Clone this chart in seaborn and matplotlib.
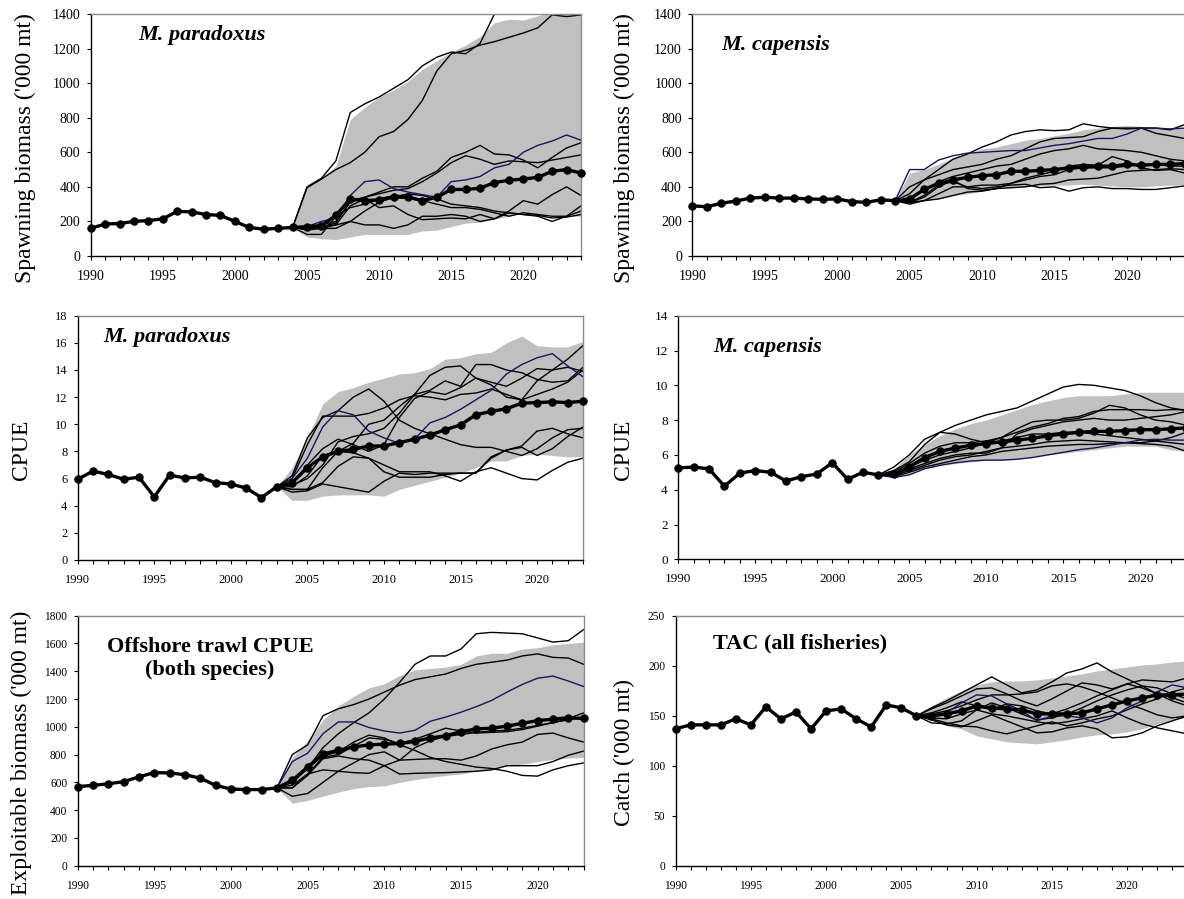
import matplotlib
matplotlib.use("Agg")
import matplotlib.pyplot as plt
import seaborn as sns
import numpy as np
from matplotlib.ticker import MultipleLocator

# ---------------- DATA ----------------
# Panel 1: Spawning biomass, M. paradoxus (1990-2024)
SSB_PAR_MEDIAN = [160, 185, 188, 200, 205, 215, 258, 255, 240, 235, 200, 165, 155, 160, 165,
                  170, 175, 235, 330, 320, 325, 340, 340, 320, 340, 385, 385, 392, 425, 438, 445, 455, 490, 500, 480]
SSB_PAR_HI = [165, 400, 450, 520, 790, 860, 920, 960, 1010, 1080, 1130, 1180, 1220, 1270, 1350, 1370, 1365, 1390, 1410, 1420, 1430]
SSB_PAR_LO = [165, 110, 100, 95, 110, 125, 125, 125, 125, 145, 150, 170, 190, 195, 215, 230, 250, 245, 235, 230, 230]
SSB_PAR_NAVY = [165, 170, 200, 220, 350, 430, 440, 390, 370, 355, 340, 430, 440, 460, 510, 530, 600, 640, 665, 700, 670]
SSB_PAR_T1 = [165, 400, 450, 550, 830, 880, 920, 970, 1020, 1100, 1150, 1180, 1170, 1230, 1400, 1440, 1430, 1450, 1440, 1430, 1440]
SSB_PAR_T2 = [165, 395, 445, 500, 540, 600, 690, 720, 790, 900, 1070, 1170, 1190, 1220, 1240, 1265, 1290, 1320, 1395, 1385, 1395]
SSB_PAR_T3 = [165, 170, 180, 200, 310, 340, 370, 400, 400, 450, 490, 570, 600, 640, 590, 585, 555, 510, 570, 625, 655]
SSB_PAR_T4 = [165, 160, 170, 190, 320, 340, 360, 380, 390, 430, 480, 540, 580, 560, 530, 550, 545, 540, 555, 570, 585]
SSB_PAR_T5 = [165, 150, 160, 180, 290, 330, 280, 290, 240, 210, 215, 220, 215, 240, 215, 260, 320, 300, 355, 400, 350]
SSB_PAR_T6 = [165, 125, 125, 230, 280, 300, 330, 350, 350, 320, 300, 280, 280, 270, 250, 230, 250, 240, 230, 230, 260]
SSB_PAR_T7 = [165, 160, 160, 160, 200, 180, 180, 160, 180, 230, 230, 240, 230, 200, 215, 250, 240, 230, 200, 230, 290]
SSB_PAR_T8 = [165, 165, 170, 180, 200, 260, 310, 340, 360, 350, 330, 300, 290, 280, 260, 250, 240, 235, 220, 225, 240]

# Panel 2: Spawning biomass, M. capensis (1990-2024)
SSB_CAP_MEDIAN = [290, 285, 305, 318, 335, 340, 335, 335, 330, 328, 330, 315, 310, 325, 320,
                  330, 385, 420, 440, 455, 465, 470, 490, 490, 495, 500, 510, 515, 520, 520, 530, 525, 530, 530, 535]
SSB_CAP_HI = [320, 480, 500, 530, 570, 590, 620, 630, 650, 670, 680, 695, 710, 730, 740, 750, 755, 750, 745, 740, 740]
SSB_CAP_LO = [320, 310, 320, 330, 350, 360, 375, 390, 395, 400, 405, 410, 410, 415, 410, 405, 400, 400, 405, 410, 410]
SSB_CAP_NAVY = [320, 500, 500, 555, 580, 595, 600, 605, 610, 610, 625, 640, 650, 665, 680, 680, 705, 740, 740, 735, 740]
SSB_CAP_T1 = [320, 400, 440, 500, 560, 590, 630, 660, 700, 720, 730, 725, 730, 765, 750, 740, 740, 740, 740, 730, 760]
SSB_CAP_T2 = [320, 360, 440, 470, 500, 515, 530, 560, 580, 620, 660, 680, 685, 690, 720, 740, 735, 740, 710, 695, 680]
SSB_CAP_T3 = [320, 330, 380, 430, 460, 480, 500, 520, 530, 560, 590, 610, 620, 640, 620, 615, 610, 600, 580, 560, 550]
SSB_CAP_T4 = [320, 310, 350, 410, 430, 400, 410, 410, 420, 450, 470, 490, 520, 530, 525, 575, 550, 510, 495, 500, 480]
SSB_CAP_T5 = [320, 300, 320, 330, 350, 370, 375, 390, 420, 440, 460, 470, 500, 510, 510, 510, 520, 530, 530, 520, 520]
SSB_CAP_T6 = [320, 310, 340, 400, 440, 390, 380, 390, 395, 400, 415, 420, 440, 445, 450, 470, 490, 495, 500, 505, 500]
SSB_CAP_T7 = [320, 310, 320, 360, 400, 400, 390, 400, 410, 415, 395, 400, 375, 395, 400, 390, 390, 385, 385, 395, 405]

# Panel 3: CPUE, M. paradoxus (1990-2023)
CPUE_PAR_MEDIAN = [5.95, 6.55, 6.3, 5.95, 6.1, 4.65, 6.25, 6.05, 6.1, 5.7, 5.6, 5.3, 4.6, 5.4,
                   5.7, 6.8, 7.6, 8.0, 8.15, 8.4, 8.4, 8.65, 8.9, 9.2, 9.6, 9.95, 10.7, 10.95, 11.15, 11.55, 11.6, 11.65, 11.6, 11.7]
CPUE_PAR_HI = [5.4, 6.8, 9.0, 11.5, 12.4, 12.7, 13.1, 13.4, 13.7, 13.8, 14.1, 14.8, 14.9, 15.2, 15.3, 16.0, 16.5, 15.8, 15.7, 15.7, 16.1]
CPUE_PAR_LO = [5.4, 4.4, 4.4, 4.7, 4.8, 4.8, 4.8, 4.7, 5.2, 5.5, 5.8, 6.1, 6.4, 6.8, 7.3, 7.3, 7.7, 7.8, 7.7, 7.6, 7.6]
CPUE_PAR_NAVY = [5.4, 6.0, 7.5, 9.8, 11.0, 10.7, 9.5, 9.0, 8.6, 8.9, 10.1, 10.5, 11.1, 11.8, 12.5, 13.7, 14.4, 14.9, 15.2, 14.3, 13.5]
CPUE_PAR_T1 = [5.4, 6.2, 9.0, 10.5, 11.0, 12.0, 12.6, 11.7, 10.3, 9.7, 9.3, 8.9, 8.5, 8.3, 8.3, 8.0, 7.7, 8.2, 9.0, 9.6, 9.7]
CPUE_PAR_T2 = [5.4, 6.0, 8.5, 10.6, 10.6, 10.6, 10.8, 11.2, 11.8, 12.1, 12.0, 11.8, 12.2, 12.3, 12.6, 12.2, 11.8, 12.2, 12.6, 13.1, 14.0]
CPUE_PAR_T3 = [5.4, 5.5, 6.0, 7.0, 8.7, 9.1, 9.3, 9.7, 10.8, 12.2, 13.6, 14.2, 14.3, 13.4, 12.9, 12.0, 11.8, 13.2, 14.0, 14.8, 15.8]
CPUE_PAR_T4 = [5.4, 5.2, 5.2, 6.8, 8.0, 8.6, 10.0, 10.3, 11.3, 12.2, 12.5, 13.2, 12.8, 14.4, 14.4, 14.0, 13.8, 13.3, 13.1, 13.2, 14.2]
CPUE_PAR_T5 = [5.4, 5.6, 7.0, 8.2, 8.9, 8.5, 8.0, 8.5, 10.5, 11.9, 12.4, 12.2, 12.7, 13.4, 13.1, 12.8, 13.4, 14.1, 14.0, 14.2, 13.9]
CPUE_PAR_T6 = [5.4, 5.4, 6.2, 7.7, 8.0, 7.9, 7.5, 6.5, 6.1, 6.1, 6.1, 6.3, 6.4, 6.4, 7.5, 8.1, 8.4, 9.5, 9.7, 9.3, 9.0]
CPUE_PAR_T7 = [5.4, 5.2, 5.2, 5.7, 6.9, 7.6, 7.5, 7.0, 6.5, 6.5, 6.5, 6.2, 5.8, 6.5, 6.8, 6.4, 6.0, 5.9, 6.6, 7.2, 7.5]
CPUE_PAR_T8 = [5.4, 5.0, 5.1, 5.6, 5.4, 5.2, 5.0, 5.8, 6.4, 6.3, 6.4, 6.4, 6.4, 6.4, 7.6, 8.1, 8.3, 7.7, 8.2, 9.1, 9.8]

# Panel 4: CPUE, M. capensis (1990-2023)
CPUE_CAP_MEDIAN = [5.25, 5.3, 5.2, 4.2, 4.95, 5.1, 5.0, 4.5, 4.75, 4.9, 5.55, 4.6, 5.0, 4.85,
                   4.9, 5.3, 5.85, 6.2, 6.4, 6.55, 6.65, 6.75, 6.85, 6.95, 7.1, 7.2, 7.3, 7.35, 7.35, 7.4, 7.45, 7.45, 7.5, 7.55]
CPUE_CAP_HI = [4.85, 5.2, 6.0, 6.6, 7.1, 7.5, 7.8, 8.0, 8.3, 8.6, 8.9, 9.1, 9.3, 9.4, 9.4, 9.4, 9.5, 9.6, 9.6, 9.6, 9.6]
CPUE_CAP_LO = [4.85, 4.7, 4.9, 5.2, 5.4, 5.5, 5.6, 5.7, 5.7, 5.75, 5.85, 6.0, 6.1, 6.2, 6.3, 6.4, 6.5, 6.5, 6.5, 6.3, 6.2]
CPUE_CAP_NAVY = [4.85, 4.7, 4.85, 5.2, 5.4, 5.55, 5.65, 5.7, 5.7, 5.75, 5.85, 6.0, 6.15, 6.3, 6.4, 6.55, 6.7, 6.85, 6.9, 6.85, 6.85]
CPUE_CAP_T1 = [4.85, 5.3, 6.0, 6.9, 7.3, 7.7, 8.0, 8.3, 8.5, 8.7, 9.1, 9.5, 9.9, 10.05, 10.0, 9.85, 9.7, 9.4, 9.0, 8.7, 8.55]
CPUE_CAP_T2 = [4.85, 5.1, 5.6, 6.6, 7.3, 7.2, 6.9, 6.7, 6.8, 7.0, 7.2, 7.2, 7.3, 7.3, 7.2, 7.1, 7.0, 6.9, 6.8, 6.7, 6.6]
CPUE_CAP_T3 = [4.85, 5.0, 5.5, 6.1, 6.5, 6.7, 6.7, 6.8, 7.0, 7.5, 7.9, 8.0, 8.0, 8.1, 8.4, 8.85, 8.7, 8.3, 8.0, 7.9, 7.7]
CPUE_CAP_T4 = [4.85, 4.9, 5.3, 5.7, 6.0, 6.2, 6.4, 6.7, 7.0, 7.3, 7.6, 7.8, 8.1, 8.2, 8.5, 8.6, 8.6, 8.6, 8.55, 8.6, 8.6]
CPUE_CAP_T5 = [4.85, 4.85, 5.2, 5.5, 5.8, 6.0, 6.1, 6.1, 6.4, 7.2, 7.5, 7.7, 7.9, 8.0, 8.1, 8.0, 8.0, 8.1, 8.2, 8.3, 8.5]
CPUE_CAP_T6 = [4.85, 4.8, 5.1, 5.4, 5.7, 5.9, 6.0, 6.2, 6.4, 6.5, 6.6, 6.75, 6.8, 6.85, 6.8, 6.75, 6.7, 6.65, 6.6, 6.5, 6.2]
CPUE_CAP_T7 = [4.85, 4.75, 5.0, 5.3, 5.5, 5.7, 5.9, 6.0, 6.2, 6.3, 6.4, 6.5, 6.55, 6.6, 6.6, 6.65, 6.7, 6.7, 6.8, 7.0, 7.3]

# Panel 5: Exploitable biomass, offshore trawl CPUE (1990-2023)
EXB_MEDIAN = [570, 578, 590, 605, 640, 670, 668, 655, 630, 578, 552, 548, 548, 560,
              615, 710, 805, 830, 855, 870, 875, 880, 895, 920, 935, 965, 985, 990, 1005, 1025, 1045, 1055, 1065, 1060]
EXB_HI = [560, 780, 900, 1050, 1150, 1220, 1280, 1310, 1370, 1410, 1420, 1430, 1450, 1510, 1530, 1530, 1560, 1570, 1590, 1600, 1610]
EXB_LO = [560, 450, 470, 500, 530, 555, 570, 575, 600, 620, 635, 650, 660, 680, 700, 715, 730, 750, 765, 775, 780]
EXB_NAVY = [560, 750, 810, 950, 1035, 1035, 995, 970, 955, 975, 1040, 1070, 1105, 1145, 1190, 1250, 1305, 1350, 1365, 1330, 1290]
EXB_T1 = [560, 600, 700, 850, 950, 1030, 1100, 1200, 1320, 1450, 1510, 1510, 1560, 1670, 1680, 1675, 1670, 1640, 1610, 1620, 1700]
EXB_T2 = [560, 800, 870, 1080, 1130, 1160, 1200, 1250, 1300, 1340, 1360, 1380, 1420, 1450, 1465, 1480, 1510, 1525, 1500, 1495, 1450]
EXB_T3 = [560, 600, 700, 790, 820, 890, 940, 920, 870, 830, 780, 750, 730, 710, 700, 680, 650, 645, 690, 720, 740]
EXB_T4 = [560, 560, 660, 780, 800, 860, 920, 910, 880, 910, 950, 990, 970, 955, 960, 965, 980, 1005, 1030, 1060, 1100]
EXB_T5 = [560, 560, 650, 770, 790, 770, 760, 720, 660, 665, 668, 670, 675, 680, 690, 720, 720, 720, 750, 795, 825]
EXB_T6 = [560, 500, 520, 600, 680, 740, 800, 820, 760, 765, 770, 770, 760, 790, 840, 870, 890, 945, 955, 920, 890]
EXB_T7 = [560, 580, 660, 690, 680, 670, 665, 720, 760, 850, 900, 930, 945, 960, 970, 975, 990, 1010, 1030, 1050, 1070]

# Panel 6: TAC, all fisheries (1990-2024)
TAC_MEDIAN = [137, 141, 141, 141, 147, 141, 159, 147, 154, 137, 155, 157, 147, 139, 161, 158, 150,
              150, 152, 155, 160, 158, 157, 156, 152, 152, 152, 153, 157, 161, 165, 168, 171, 171, 172]
TAC_HI = [150, 160, 168, 175, 181, 184, 185, 185, 186, 188, 190, 192, 195, 197, 199, 201, 202, 204, 205]
TAC_LO = [150, 146, 140, 137, 130, 127, 124, 123, 122, 124, 126, 129, 131, 132, 134, 137, 142, 146, 148]
TAC_NAVY = [150, 151, 153, 163, 171, 170, 162, 155, 145, 150, 150, 148, 143, 148, 158, 165, 174, 181, 178]
TAC_T1 = [150, 158, 165, 173, 181, 189, 181, 173, 176, 184, 193, 197, 203, 194, 187, 180, 172, 165, 160]
TAC_T2 = [150, 157, 163, 170, 177, 178, 172, 165, 160, 167, 175, 183, 181, 177, 182, 186, 185, 184, 188]
TAC_T3 = [150, 152, 155, 160, 166, 171, 171, 172, 174, 180, 182, 179, 174, 168, 162, 157, 151, 148, 150]
TAC_T4 = [150, 147, 143, 140, 139, 135, 132, 136, 140, 144, 140, 143, 147, 150, 156, 162, 167, 174, 178]
TAC_T5 = [150, 143, 142, 145, 156, 163, 158, 152, 146, 148, 152, 158, 165, 171, 176, 180, 178, 172, 167]
TAC_T6 = [150, 146, 141, 139, 145, 151, 145, 139, 133, 134, 138, 140, 137, 128, 129, 133, 140, 145, 150]
TAC_T7 = [150, 148, 147, 152, 156, 152, 150, 147, 144, 142, 144, 147, 150, 155, 148, 142, 138, 135, 132]
TAC_T8 = [150, 153, 158, 164, 160, 156, 162, 160, 155, 152, 157, 163, 170, 176, 182, 178, 172, 168, 163]

TITLES = ["M. paradoxus", "M. capensis", "M. paradoxus", "M. capensis",
          "Offshore trawl CPUE\n(both species)", "TAC (all fisheries)"]
YLABELS = ["Spawning biomass ('000 mt)", "Spawning biomass ('000 mt)", "CPUE", "CPUE",
           "Exploitable biomass ('000 mt)", "Catch ('000 mt)"]

# ---------------- STYLE ----------------
sns.set_theme(style="white")
plt.rcParams['font.family'] = ['Liberation Serif', 'DejaVu Serif']
plt.rcParams['text.color'] = 'black'
plt.rcParams['xtick.color'] = 'black'
plt.rcParams['ytick.color'] = 'black'
plt.rcParams['axes.labelcolor'] = 'black'

W, H = 1184, 899
fig = plt.figure(figsize=(W / 100, H / 100), dpi=100)

BAND = "#c0c0c0"
NAVY = "#16165e"


def rect(l, r, t, b):
    return [l / W, 1 - b / H, (r - l) / W, (b - t) / H]


panels = [
    dict(pos=rect(90.7, 581, 14, 256), start=1990, end=2024, proj0=2004, med=SSB_PAR_MEDIAN,
         hi=SSB_PAR_HI, lo=SSB_PAR_LO, navy=SSB_PAR_NAVY,
         traj=[SSB_PAR_T1, SSB_PAR_T2, SSB_PAR_T3, SSB_PAR_T4, SSB_PAR_T5, SSB_PAR_T6, SSB_PAR_T7, SSB_PAR_T8],
         ylim=1400, ystep=200, tfs=10, title_xy=(202, 35), title_style='italic', ylab_xy=(25, 148)),
    dict(pos=rect(692.4, 1184.7, 14, 256), start=1990, end=2024, proj0=2004, med=SSB_CAP_MEDIAN,
         hi=SSB_CAP_HI, lo=SSB_CAP_LO, navy=SSB_CAP_NAVY,
         traj=[SSB_CAP_T1, SSB_CAP_T2, SSB_CAP_T3, SSB_CAP_T4, SSB_CAP_T5, SSB_CAP_T6, SSB_CAP_T7],
         ylim=1400, ystep=200, tfs=10, title_xy=(776, 45), title_style='italic', ylab_xy=(624, 148)),
    dict(pos=rect(77.7, 583, 315.7, 560), start=1990, end=2023, proj0=2003, med=CPUE_PAR_MEDIAN,
         hi=CPUE_PAR_HI, lo=CPUE_PAR_LO, navy=CPUE_PAR_NAVY,
         traj=[CPUE_PAR_T1, CPUE_PAR_T2, CPUE_PAR_T3, CPUE_PAR_T4, CPUE_PAR_T5, CPUE_PAR_T6, CPUE_PAR_T7, CPUE_PAR_T8],
         ylim=18, ystep=2, tfs=9, title_xy=(167, 337), title_style='italic', ylab_xy=(21, 450)),
    dict(pos=rect(678.2, 1186.4, 315.7, 559.3), start=1990, end=2023, proj0=2003, med=CPUE_CAP_MEDIAN,
         hi=CPUE_CAP_HI, lo=CPUE_CAP_LO, navy=CPUE_CAP_NAVY,
         traj=[CPUE_CAP_T1, CPUE_CAP_T2, CPUE_CAP_T3, CPUE_CAP_T4, CPUE_CAP_T5, CPUE_CAP_T6, CPUE_CAP_T7],
         ylim=14, ystep=2, tfs=9.5, title_xy=(768, 347), title_style='italic', ylab_xy=(624, 450)),
    dict(pos=rect(77.7, 583.6, 615.7, 865.7), start=1990, end=2023, proj0=2003, med=EXB_MEDIAN,
         hi=EXB_HI, lo=EXB_LO, navy=EXB_NAVY,
         traj=[EXB_T1, EXB_T2, EXB_T3, EXB_T4, EXB_T5, EXB_T6, EXB_T7],
         ylim=1800, ystep=200, tfs=8.3, title_xy=(210, 659), title_style='normal', ylab_xy=(21, 753)),
    dict(pos=rect(675.6, 1187.3, 616, 865.7), start=1990, end=2024, proj0=2006, med=TAC_MEDIAN,
         hi=TAC_HI, lo=TAC_LO, navy=TAC_NAVY,
         traj=[TAC_T1, TAC_T2, TAC_T3, TAC_T4, TAC_T5, TAC_T6, TAC_T7, TAC_T8],
         ylim=250, ystep=50, tfs=8.3, title_xy=(800, 643), title_style='normal', ylab_xy=(624, 753)),
]

for i, p in enumerate(panels):
    ax = fig.add_axes(p['pos'])
    yrs = np.arange(p['start'], p['end'] + 1)
    pyrs = np.arange(p['proj0'], p['end'] + 1)

    ax.fill_between(pyrs, p['lo'], p['hi'], color=BAND, lw=0, zorder=1)
    for t in p['traj']:
        sns.lineplot(x=pyrs, y=t, ax=ax, color='black', lw=1.0, zorder=2, errorbar=None)
    sns.lineplot(x=pyrs, y=p['navy'], ax=ax, color=NAVY, lw=1.0, zorder=3, errorbar=None)
    sns.lineplot(x=yrs, y=p['med'], ax=ax, color='black', lw=2.4, marker='o', markersize=5.3,
                 markeredgecolor='black', zorder=5, errorbar=None, clip_on=False)

    ax.set_xlim(p['start'], p['end'])
    ax.set_ylim(0, p['ylim'])
    ax.set_facecolor('white')
    ax.set_xlabel('')
    ax.set_ylabel('')

    ax.xaxis.set_major_locator(MultipleLocator(5))
    ax.xaxis.set_minor_locator(MultipleLocator(1))
    ax.yaxis.set_major_locator(MultipleLocator(p['ystep']))
    ax.tick_params(axis='x', which='both', direction='out', length=3, width=0.8, color='black',
                   bottom=True, pad=7, labelsize=p['tfs'], labelcolor='black')
    ax.tick_params(axis='y', which='major', direction='out', length=3, width=0.8, color='black',
                   left=True, pad=4.5, labelsize=p['tfs'], labelcolor='black')
    for s in ['left', 'bottom']:
        ax.spines[s].set_color('black')
        ax.spines[s].set_linewidth(1.0)
    for s in ['top', 'right']:
        ax.spines[s].set_color('#8c8c8c')
        ax.spines[s].set_linewidth(1.0)
    ax.grid(False)

    tx, ty = p['title_xy']
    fig.text(tx / W, 1 - ty / H, TITLES[i], ha='center', va='center', fontsize=16,
             fontweight='bold', fontstyle=p['title_style'], linespacing=1.2, color='black')
    lx, ly = p['ylab_xy']
    fig.text(lx / W, 1 - ly / H, YLABELS[i], ha='center', va='center', rotation=90,
             fontsize=17, color='black')

fig.savefig('out.png', dpi=100)
